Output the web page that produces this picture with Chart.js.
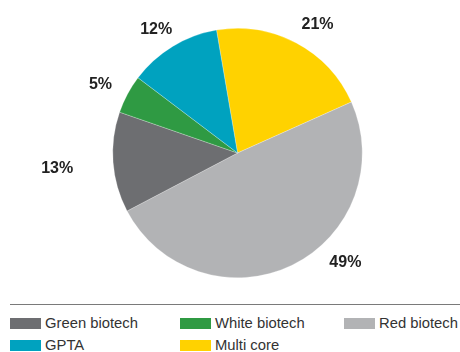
<!DOCTYPE html>
<html>
<head>
<meta charset="utf-8">
<script src="https://cdn.jsdelivr.net/npm/chart.js@4"></script>
<style>
  html, body { margin: 0; padding: 0; background: #fff; }
  #wrap { position: relative; width: 460px; height: 352px; font-family: "Liberation Sans", Arial, sans-serif; }
  #pie-box { position: absolute; left: 0; top: 0; width: 460px; height: 300px; }
  #rule { position: absolute; left: 10px; right: 0; top: 304px; height: 0; border-top: 1.5px solid #7a7a7a; }
  .leg-item { position: absolute; display: flex; align-items: center; font-size: 14.8px; color: #333; white-space: nowrap; }
  .leg-sq { display: inline-block; width: 31px; height: 11px; margin-right: 4px; }
</style>
</head>
<body>
<div id="wrap">
  <div id="pie-box"><canvas id="c-pie"></canvas></div>
  <div id="rule"></div>
  <div id="legend"></div>
</div>
<script>
// slices in clockwise order, starting just left of 12 o'clock
const SEGMENTS = ['Multi core', 'Red biotech', 'Green biotech', 'White biotech', 'GPTA'];
const SHARES   = [21, 49, 13, 5, 12];
const COLORS   = ['#ffd200', '#b2b3b5', '#6d6e71', '#2f9a43', '#00a2bf'];
const LEGEND_ORDER = ['Green biotech', 'White biotech', 'Red biotech', 'GPTA', 'Multi core'];

// hand-tuned label nudges (px) from the default spot just outside each slice
const LABEL_NUDGE = [[9, 5], [42, -26], [-30, 4], [-4, 3], [-3, 5]];

const pctLabels = {
  id: 'pctLabels',
  afterDatasetsDraw(chart) {
    const { ctx } = chart;
    const meta = chart.getDatasetMeta(0);
    ctx.save();
    ctx.font = 'bold 16px "Liberation Sans", Arial, sans-serif';
    ctx.fillStyle = '#222';
    ctx.textAlign = 'center';
    ctx.textBaseline = 'middle';
    meta.data.forEach((arc, i) => {
      const { x, y, startAngle, endAngle, outerRadius } = arc.getProps(['x', 'y', 'startAngle', 'endAngle', 'outerRadius'], true);
      const mid = (startAngle + endAngle) / 2;
      const r = outerRadius + 26;
      const [dx, dy] = LABEL_NUDGE[i];
      ctx.fillText(SHARES[i] + '%', x + Math.cos(mid) * r + dx, y + Math.sin(mid) * r + dy);
    });
    ctx.restore();
  },
};

new Chart(document.getElementById('c-pie'), {
  type: 'pie',
  data: {
    labels: SEGMENTS,
    datasets: [{
      data: SHARES,
      backgroundColor: COLORS,
      borderColor: 'rgba(255,255,255,0.5)',
      borderWidth: 0.5,
    }],
  },
  options: {
    responsive: true, maintainAspectRatio: false,
    animation: false,
    rotation: -9.7,
    layout: { padding: { left: 112, right: 97, top: 28, bottom: 22 } },
    plugins: { legend: { display: false }, tooltip: { enabled: false } },
  },
  plugins: [pctLabels],
});

// legend: three columns, two rows
const colX = [10, 180, 344];
document.getElementById('legend').innerHTML = LEGEND_ORDER.map((name, i) => {
  const c = COLORS[SEGMENTS.indexOf(name)];
  const left = colX[i % 3], top = 315 + Math.floor(i / 3) * 22;
  return `<span class="leg-item" style="left:${left}px;top:${top}px"><span class="leg-sq" style="background:${c}"></span>${name}</span>`;
}).join('');
</script>
</body>
</html>
